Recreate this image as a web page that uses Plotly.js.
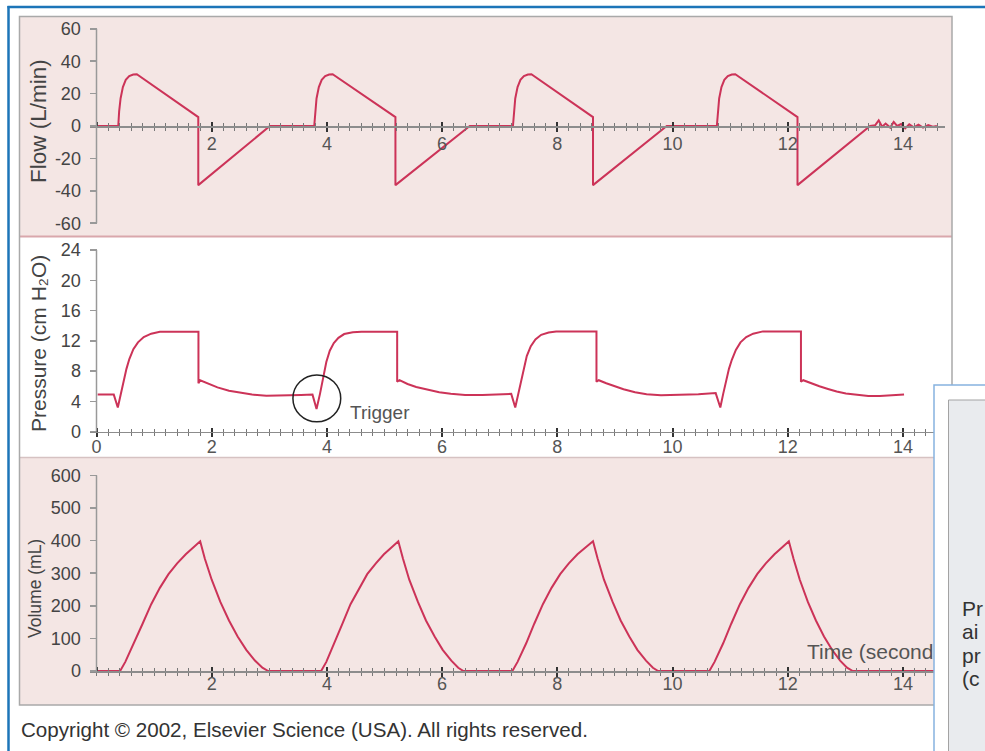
<!DOCTYPE html>
<html>
<head>
<meta charset="utf-8">
<script src="https://cdn.plot.ly/plotly-3.0.1.min.js"></script>
<style>html,body{margin:0;padding:0;background:#fff;}#chart{width:985px;height:751px;}</style>
</head>
<body>
<div id="chart"></div>
<script>
// ---------------- DATA ----------------
const flowTime = [0.02,0.378,0.393,0.418,0.458,0.508,0.568,0.638,0.70,1.767,1.767,3.01,3.78,
  3.795,3.82,3.86,3.91,3.97,4.04,4.10,5.19,5.19,6.48,7.23,
  7.245,7.27,7.31,7.36,7.42,7.49,7.55,8.62,8.62,9.90,10.77,
  10.785,10.81,10.85,10.90,10.96,11.03,11.09,12.17,12.17,13.43,
  13.52,13.58,13.64,13.70,13.78,13.84,13.90,13.97,14.04,14.11,14.19,14.27,14.35,14.44,14.52,14.59];
const flowValue = [0,0,9,17,24,28.5,30.8,31.8,32,5.5,-36.5,0,0,
  9,17,24,28.5,30.8,31.8,32,5.5,-36.5,0,0,
  9,17,24,28.5,30.8,31.8,32,5.5,-36.5,0,0,
  9,17,24,28.5,30.8,31.8,32,5.5,-36.5,0,
  0.5,3.5,-0.5,1.5,-1,2.5,0,1.2,-1.5,1,-0.8,0.8,-1,0.6,-0.4,0];

const pressureTime = [0.02,0.30,0.37,0.42,0.47,0.52,0.57,0.64,0.72,0.82,0.95,1.10,1.77,1.77,1.80,1.95,2.10,2.30,2.50,2.70,2.95,3.25,3.55,3.75,
  3.82,3.88,3.94,3.99,4.05,4.12,4.20,4.30,4.45,4.60,5.22,5.22,5.26,5.40,5.55,5.75,5.95,6.15,6.40,6.70,7.00,7.20,
  7.27,7.33,7.41,7.47,7.54,7.62,7.72,7.85,7.98,8.68,8.68,8.72,8.85,9.00,9.15,9.35,9.55,9.80,10.10,10.45,10.75,
  10.83,10.88,10.93,10.98,11.03,11.10,11.18,11.28,11.40,11.57,12.23,12.23,12.27,12.40,12.55,12.70,12.85,13.01,13.20,13.40,13.60,13.80,14.02];
const pressureValue = [4.9,4.9,3.2,5.0,6.7,8.3,9.6,10.9,11.8,12.5,12.95,13.2,13.2,6.4,6.8,6.3,5.85,5.4,5.1,4.9,4.75,4.75,4.85,4.9,
  3.0,5.0,7.4,9.2,10.7,11.7,12.4,12.9,13.15,13.2,13.2,6.6,6.8,6.3,5.9,5.5,5.2,5.0,4.85,4.85,4.9,5.0,
  3.2,5.3,8.3,10.0,11.3,12.2,12.8,13.1,13.25,13.25,6.6,6.8,6.4,5.95,5.6,5.2,4.95,4.8,4.85,4.95,5.1,
  3.2,5.0,6.7,8.3,9.5,10.8,11.8,12.5,12.95,13.25,13.25,6.6,6.8,6.4,6.0,5.65,5.3,5.05,4.85,4.72,4.72,4.78,4.9];

const volumeTime = [0.02,0.41,0.50,0.65,0.80,0.95,1.10,1.25,1.40,1.55,1.70,1.80,1.88,2.00,2.15,2.30,2.45,2.60,2.75,2.88,2.98,
  3.90,3.99,4.13,4.27,4.41,4.56,4.70,4.85,4.99,5.14,5.24,5.32,5.43,5.58,5.72,5.87,6.01,6.16,6.28,6.37,
  7.22,7.31,7.46,7.60,7.75,7.90,8.05,8.20,8.35,8.51,8.62,8.70,8.81,8.96,9.10,9.25,9.39,9.54,9.66,9.75,
  10.64,10.73,10.88,11.02,11.17,11.32,11.47,11.62,11.77,11.92,12.02,12.10,12.21,12.35,12.49,12.63,12.77,12.91,13.03,13.13,14.55];
const volumeValue = [0,0,28,85,145,205,255,297,330,358,382,398,345,280,212,155,106,65,32,10,0,
  0,28,85,145,205,255,297,330,358,382,398,345,280,212,155,106,65,32,10,0,
  0,28,85,145,205,255,297,330,358,382,398,345,280,212,155,106,65,32,10,0,
  0,28,85,145,205,255,297,330,358,382,398,345,280,212,155,106,65,32,10,0,0];

const flowTicks = [-60,-40,-20,0,20,40,60];
const flowTickText = ['-60','-40','-20','0','20','40','60'];
const pressureTicks = [0,4,8,12,16,20,24];
const volumeTicks = [0,100,200,300,400,500,600];
const timeTicksAll = [0,2,4,6,8,10,12,14];
const timeTicksFlow = [2,4,6,8,10,12,14];
const timeTicksPressure = [0,2,4,6,8,10,12,14];
const timeTicksVolume = [2,4,6,8,10,12,14];

const flowTitle = 'Flow (L/min)';
const pressureTitle = 'Pressure (cm H\u2082O)';
const volumeTitle = 'Volume (mL)';
const timeTitle = 'Time (seconds)';
const triggerLabel = 'Trigger';
const copyrightText = 'Copyright © 2002, Elsevier Science (USA). All rights reserved.';
const sideTextLines = ['Pr','ai','pr','(c'];

// ---------------- LAYOUT HELPERS ----------------
const W = 985, H = 751;
const X = px => px / W;
const Y = py => 1 - py / H;
const FONT = 'Liberation Sans, Arial, Helvetica, sans-serif';
const RED = '#cc3358';

// x mapping: t=0 at px 96.5, 57.6 px per second; plot spans px 90..945
const x0px = 96.5, xScale = 57.6, xL = 90, xR = 945;
const xRange = [(xL - x0px) / xScale, (xR - x0px) / xScale];
const tAt = px => (px - x0px) / xScale;

function yRange(zeroPx, pxPerUnit, topPx, botPx) {
  return [-(botPx - zeroPx) / pxPerUnit, (zeroPx - topPx) / pxPerUnit];
}
const flowZero = 126, pressZero = 431.7, volZero = 671;
const panels = {
  flow: {top: 17, bot: 236, zero: flowZero, scale: 1.62},
  press: {top: 238, bot: 456, zero: pressZero, scale: 7.57},
  vol: {top: 459, bot: 704, zero: volZero, scale: 0.326}
};

function xAxis(zeroPx, tickvals, standoff) {
  return {
    domain: [X(xL), X(xR)], range: xRange, anchor: 'free', position: Y(zeroPx),
    showline: true, linecolor: '#8c8c8c', linewidth: 1.5, showgrid: false, zeroline: false,
    ticks: 'outside', tickmode: 'array', tickvals: tickvals, ticktext: tickvals.map(String),
    ticklen: 4, tickwidth: 2, tickcolor: '#333',
    minor: {ticks: 'outside', tickmode: 'linear', tick0: 0, dtick: 0.2, ticklen: 3, tickwidth: 1, tickcolor: '#777'},
    tickfont: {family: FONT, size: 18, color: '#555'}, ticklabelstandoff: standoff, fixedrange: true
  };
}
function xAxisUp(over, zeroPx) {
  return {
    overlaying: over, range: xRange, anchor: 'free', position: Y(zeroPx),
    showline: false, showgrid: false, zeroline: false, showticklabels: false,
    ticks: 'inside', tickmode: 'array', tickvals: timeTicksAll,
    ticklen: 4, tickwidth: 2, tickcolor: '#333',
    minor: {ticks: 'inside', tickmode: 'linear', tick0: 0, dtick: 0.2, ticklen: 3, tickwidth: 1, tickcolor: '#777'},
    fixedrange: true
  };
}
function yAxis(p, ticks, ticktext) {
  return {
    domain: [Y(p.bot), Y(p.top)], range: yRange(p.zero, p.scale, p.top, p.bot),
    anchor: 'free', position: X(x0px), showline: false, showgrid: false, zeroline: false,
    ticks: 'outside', tickmode: 'array', tickvals: ticks, ticktext: ticktext || ticks.map(String),
    ticklen: 7, tickwidth: 1.5, tickcolor: '#999',
    tickfont: {family: FONT, size: 18, color: '#444'}, ticklabelstandoff: 5, fixedrange: true
  };
}

const lineStyle = {color: RED, width: 2};
const traces = [
  {x: flowTime, y: flowValue, xaxis: 'x', yaxis: 'y', mode: 'lines', line: lineStyle, hoverinfo: 'skip'},
  {x: pressureTime, y: pressureValue, xaxis: 'x2', yaxis: 'y2', mode: 'lines', line: lineStyle, hoverinfo: 'skip'},
  {x: volumeTime, y: volumeValue, xaxis: 'x3', yaxis: 'y3', mode: 'lines', line: lineStyle, hoverinfo: 'skip'},
  {x: [null], y: [null], xaxis: 'x4', yaxis: 'y', mode: 'lines', hoverinfo: 'skip'},
  {x: [null], y: [null], xaxis: 'x5', yaxis: 'y2', mode: 'lines', hoverinfo: 'skip'},
  {x: [null], y: [null], xaxis: 'x6', yaxis: 'y3', mode: 'lines', hoverinfo: 'skip'},
  // axis label of the time axis, drawn in the volume panel (partly hidden by the side panel)
  {x: [tAt(807)], y: [(volZero - 654) / panels.vol.scale], xaxis: 'x3', yaxis: 'y3', mode: 'text',
   text: [timeTitle], textposition: 'middle right', cliponaxis: false,
   textfont: {family: FONT, size: 21, color: '#555'}, hoverinfo: 'skip'}
];

const shapes = [
  // panel backgrounds
  {type: 'rect', xref: 'paper', yref: 'paper', x0: X(19.5), x1: X(952), y0: Y(236), y1: Y(16.5), fillcolor: '#f4e6e4', line: {width: 0}, layer: 'below'},
  {type: 'rect', xref: 'paper', yref: 'paper', x0: X(19.5), x1: X(952), y0: Y(705), y1: Y(458), fillcolor: '#f4e6e4', line: {width: 0}, layer: 'below'},
  // separators
  {type: 'line', xref: 'paper', yref: 'paper', x0: X(19.5), x1: X(952), y0: Y(236.5), y1: Y(236.5), line: {color: '#d9a7ac', width: 2}, layer: 'below'},
  {type: 'line', xref: 'paper', yref: 'paper', x0: X(19.5), x1: X(952), y0: Y(457.5), y1: Y(457.5), line: {color: '#d6c2c2', width: 1.5}, layer: 'below'},
  // outer figure border
  {type: 'rect', xref: 'paper', yref: 'paper', x0: X(19.5), x1: X(952), y0: Y(705), y1: Y(16.5), line: {color: '#a9a9a9', width: 1.5}, layer: 'below'},
  // blue frame of the screenshot
  {type: 'line', xref: 'paper', yref: 'paper', x0: X(8.5), x1: X(8.5), y0: 0, y1: Y(6), line: {color: '#1c75b8', width: 2.5}},
  {type: 'line', xref: 'paper', yref: 'paper', x0: X(7.5), x1: 1, y0: Y(7), y1: Y(7), line: {color: '#1c75b8', width: 2.5}},
  // y axis lines (from bottom tick to top tick)
  {type: 'line', xref: 'x', yref: 'y', x0: 0, x1: 0, y0: flowTicks[0], y1: flowTicks[flowTicks.length - 1], line: {color: '#999', width: 1.5}},
  {type: 'line', xref: 'x2', yref: 'y2', x0: 0, x1: 0, y0: pressureTicks[0], y1: pressureTicks[pressureTicks.length - 1], line: {color: '#999', width: 1.5}},
  {type: 'line', xref: 'x3', yref: 'y3', x0: 0, x1: 0, y0: volumeTicks[0], y1: volumeTicks[volumeTicks.length - 1], line: {color: '#999', width: 1.5}},
  // trigger circle
  {type: 'circle', xref: 'x2', yref: 'y2', x0: 3.41, x1: 4.24, y0: 1.3, y1: 7.5, line: {color: '#222', width: 1.5}},
  // overlapping side panel of the screenshot (on top of the chart)
  {type: 'rect', xref: 'paper', yref: 'paper', x0: X(934), x1: X(1010), y0: Y(770), y1: Y(385), fillcolor: '#ffffff', line: {color: '#86b3e0', width: 1.5}, layer: 'above'},
  {type: 'rect', xref: 'paper', yref: 'paper', x0: X(948.5), x1: X(1010), y0: Y(770), y1: Y(400), fillcolor: '#e9ebee', line: {color: '#a3a3a3', width: 1}, layer: 'above'}
];

const ann = (text, xpx, ypx, opts) => Object.assign({
  text: text, xref: 'paper', yref: 'paper', x: X(xpx), y: Y(ypx), showarrow: false,
  xanchor: 'left', yanchor: 'middle', font: {family: FONT, size: 18, color: '#333'}
}, opts || {});

const annotations = [
  ann(flowTitle, 38, 121, {textangle: -90, xanchor: 'center', font: {family: FONT, size: 22.5, color: '#444'}}),
  ann(pressureTitle, 38, 344, {textangle: -90, xanchor: 'center', font: {family: FONT, size: 21, color: '#444'}}),
  ann(volumeTitle, 35, 589, {textangle: -90, xanchor: 'center', font: {family: FONT, size: 17.5, color: '#444'}}),
  ann(triggerLabel, 348, 412, {font: {family: FONT, size: 19, color: '#555'}}),
  ann(copyrightText, 19, 729, {font: {family: FONT, size: 20.6, color: '#333'}})
];
const sideY = [608, 631.5, 655, 678.5];
sideTextLines.forEach((t, i) => annotations.push(ann(t, 960, sideY[i], {font: {family: FONT, size: 21, color: '#333'}})));

const layout = {
  width: W, height: H, autosize: false,
  margin: {l: 0, r: 0, t: 0, b: 0, pad: 0},
  paper_bgcolor: '#ffffff', plot_bgcolor: 'rgba(0,0,0,0)',
  showlegend: false, font: {family: FONT},
  xaxis: xAxis(flowZero, timeTicksFlow, -3),
  xaxis2: xAxis(pressZero, timeTicksPressure, -6),
  xaxis3: xAxis(volZero, timeTicksVolume, -8),
  xaxis4: xAxisUp('x', flowZero),
  xaxis5: xAxisUp('x2', pressZero),
  xaxis6: xAxisUp('x3', volZero),
  yaxis: yAxis(panels.flow, flowTicks, flowTickText),
  yaxis2: yAxis(panels.press, pressureTicks),
  yaxis3: yAxis(panels.vol, volumeTicks),
  shapes: shapes, annotations: annotations
};

Plotly.newPlot('chart', traces, layout, {staticPlot: true, displayModeBar: false});
</script>
</body>
</html>
